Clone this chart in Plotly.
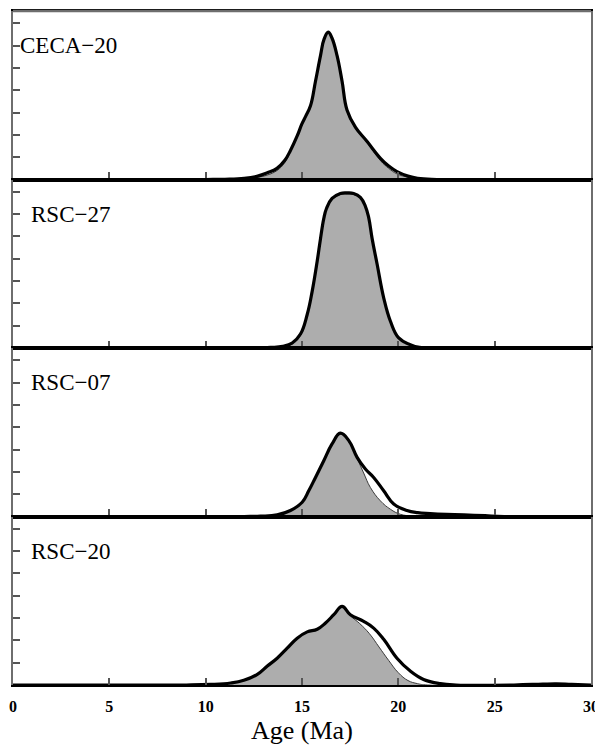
import plotly.graph_objects as go
from plotly.subplots import make_subplots

# ---------------- data ----------------
samples = ["CECA−20", "RSC−27", "RSC−07", "RSC−20"]

# CECA-20
ceca_kde_x = [0, 10, 11, 12, 12.7, 13.2, 13.7, 14.1, 14.4, 14.75, 15.0, 15.2, 15.44, 15.7, 15.96, 16.15,
              16.36, 16.55, 16.82, 17.08, 17.34, 17.77, 18.38, 19.07, 19.5, 19.93, 20.5, 21, 22, 30]
ceca_kde_y = [0, 0, 0.0002, 0.001, 0.003, 0.006, 0.010, 0.017, 0.026, 0.039, 0.050, 0.057, 0.066, 0.088, 0.111, 0.126,
              0.132, 0.127, 0.111, 0.088, 0.062, 0.047, 0.034, 0.019, 0.012, 0.007, 0.003, 0.001, 0, 0]
ceca_pdp_x = [0, 10, 11, 12, 12.7, 13.2, 13.7, 14.1, 14.4, 14.75, 15.0, 15.2, 15.44, 15.7, 15.96, 16.15,
              16.36, 16.55, 16.82, 17.08, 17.34, 17.77, 18.38, 19.07, 19.5, 19.93, 20.5, 21, 22, 30]
ceca_pdp_y = [0, 0, 0.0001, 0.0006, 0.002, 0.004, 0.008, 0.015, 0.025, 0.038, 0.049, 0.056, 0.065, 0.087, 0.110, 0.125,
              0.131, 0.126, 0.110, 0.087, 0.061, 0.046, 0.033, 0.017, 0.010, 0.005, 0.002, 0.0005, 0, 0]

# RSC-27
r27_kde_x = [0, 12, 13.37, 14.0, 14.49, 14.92, 15.27, 15.53, 15.79, 15.96, 16.13, 16.27, 16.56, 16.99, 17.35,
             17.68, 18.03, 18.29, 18.46, 18.64, 18.9, 19.24, 19.59, 20.02, 20.62, 21.1, 22, 30]
r27_kde_y = [0, 0, 0.0005, 0.0015, 0.0045, 0.0125, 0.030, 0.051, 0.078, 0.098, 0.116, 0.125, 0.134, 0.1385, 0.139,
             0.1385, 0.135, 0.127, 0.117, 0.098, 0.075, 0.045, 0.024, 0.009, 0.003, 0.0005, 0, 0]
r27_pdp_x = [0, 12, 13.37, 14.0, 14.49, 14.92, 15.27, 15.53, 15.79, 15.96, 16.13, 16.27, 16.56, 16.99, 17.35,
             17.68, 18.03, 18.29, 18.46, 18.64, 18.9, 19.24, 19.59, 20.02, 20.62, 21.1, 22, 30]
r27_pdp_y = [0, 0, 0.0003, 0.001, 0.0035, 0.011, 0.029, 0.050, 0.077, 0.097, 0.115, 0.124, 0.133, 0.1375, 0.138,
             0.1375, 0.134, 0.126, 0.116, 0.097, 0.074, 0.044, 0.023, 0.008, 0.002, 0.0003, 0, 0]

# RSC-07
r07_kde_x = [0, 12, 12.85, 13.71, 14.4, 15.01, 15.35, 15.7, 16.13, 16.56, 16.99, 17.43, 17.86, 18.29, 18.72,
             19.24, 19.76, 20.45, 21.0, 21.66, 22.5, 23.4, 24.5, 25.5, 30]
r07_kde_y = [0, 0, 0.0003, 0.0015, 0.0054, 0.0128, 0.023, 0.035, 0.050, 0.065, 0.0747, 0.068, 0.053, 0.0425, 0.035,
             0.023, 0.0113, 0.0054, 0.0035, 0.0027, 0.002, 0.0015, 0.0007, 0, 0]
r07_pdp_x = [0, 12, 12.85, 13.71, 14.4, 15.01, 15.35, 15.7, 16.13, 16.56, 16.99, 17.43, 17.86, 18.2, 18.55,
             19.07, 19.59, 20.1, 20.7, 21.5, 30]
r07_pdp_y = [0, 0, 0.0003, 0.0015, 0.0054, 0.0128, 0.023, 0.035, 0.050, 0.065, 0.074, 0.067, 0.052, 0.039, 0.026,
             0.014, 0.0065, 0.002, 0.0005, 0, 0]

# RSC-20
r20_kde_x = [0, 9, 10.26, 11.3, 11.98, 12.68, 13.2, 13.71, 14.23, 14.75, 15.27, 15.79, 16.22, 16.65, 17.08,
             17.51, 18.2, 18.72, 19.24, 19.93, 20.62, 21.31, 22.18, 23, 26, 27.5, 28.2, 29, 30]
r20_kde_y = [0, 0, 0.0005, 0.0018, 0.0042, 0.0095, 0.017, 0.024, 0.033, 0.042, 0.0476, 0.050, 0.0556, 0.063, 0.0705,
             0.063, 0.057, 0.051, 0.041, 0.024, 0.0125, 0.005, 0.0012, 0, 0, 0.0008, 0.001, 0.0005, 0]
r20_pdp_x = [0, 9, 10.26, 11.3, 11.98, 12.68, 13.2, 13.71, 14.23, 14.75, 15.27, 15.79, 16.22, 16.65, 17.08,
             17.51, 18.0, 18.5, 19.0, 19.5, 20.0, 20.5, 21.0, 21.5, 30]
r20_pdp_y = [0, 0, 0.0005, 0.0018, 0.0042, 0.0095, 0.017, 0.024, 0.033, 0.042, 0.0476, 0.050, 0.0556, 0.063, 0.070,
             0.062, 0.055, 0.046, 0.034, 0.022, 0.011, 0.004, 0.0012, 0, 0]

x_ticks = [0, 5, 10, 15, 20, 25, 30]
x_tick_labels = ["0", "5", "10", "15", "20", "25", "30"]
x_title = "Age (Ma)"

kde_x = [ceca_kde_x, r27_kde_x, r07_kde_x, r20_kde_x]
kde_y = [ceca_kde_y, r27_kde_y, r07_kde_y, r20_kde_y]
pdp_x = [ceca_pdp_x, r27_pdp_x, r07_pdp_x, r20_pdp_x]
pdp_y = [ceca_pdp_y, r27_pdp_y, r07_pdp_y, r20_pdp_y]

# ---------------- figure ----------------
SERIF = "Liberation Serif, Times New Roman, serif"

fig = make_subplots(rows=4, cols=1, shared_xaxes=True, vertical_spacing=0)

for i in range(4):
    r = i + 1
    fig.add_trace(go.Scatter(x=pdp_x[i], y=pdp_y[i], mode="lines",
                             line=dict(color="#3a3a3a", width=1, shape="spline", smoothing=1.2),
                             fill="tozeroy", fillcolor="#adadad",
                             hoverinfo="skip", showlegend=False), row=r, col=1)
    fig.add_trace(go.Scatter(x=kde_x[i], y=kde_y[i], mode="lines",
                             line=dict(color="#000000", width=3.2, shape="spline", smoothing=1.2),
                             showlegend=False), row=r, col=1)
    fig.add_annotation(text=samples[i], xref="x domain", yref="y domain",
                       x=0.008 if i == 0 else 0.027, y=0.795, xanchor="left", yanchor="middle",
                       showarrow=False, font=dict(family=SERIF, size=23, color="black"),
                       row=r, col=1)

fig.update_xaxes(range=[0, 30], tickvals=x_ticks, ticktext=x_tick_labels,
                 ticks="inside", ticklen=7, tickwidth=1.5, tickcolor="#555555",
                 showline=True, mirror=True, linecolor="#000000", linewidth=2.4,
                 showgrid=False, zeroline=False, showticklabels=False)
fig.update_xaxes(showticklabels=True, ticklabeloverflow="allow",
                 tickfont=dict(family=SERIF, size=16, color="black", weight="bold"),
                 ticklabelstandoff=6, row=4, col=1)
fig.update_yaxes(range=[0, 0.151], dtick=0.02, tick0=0,
                 ticks="inside", ticklen=7, tickwidth=1.5, tickcolor="#555555",
                 showline=True, mirror=True, linecolor="#6e6e6e", linewidth=2,
                 showgrid=False, zeroline=False, showticklabels=False)

# grey top frame edge
fig.add_shape(type="line", xref="paper", yref="paper", x0=0, x1=1, y0=1, y1=1,
              line=dict(color="#6e6e6e", width=2.4), layer="above")

fig.add_annotation(text=x_title, xref="paper", yref="paper", x=0.5, y=-0.068,
                   xanchor="center", yanchor="middle", showarrow=False,
                   font=dict(family=SERIF, size=26, color="black"))

# the page body has an 8px margin, so the figure is made 8px smaller
fig.update_layout(width=595, height=738, margin=dict(l=4, r=12, t=1, b=61),
                  paper_bgcolor="white", plot_bgcolor="white")

fig.write_html("out.html")
